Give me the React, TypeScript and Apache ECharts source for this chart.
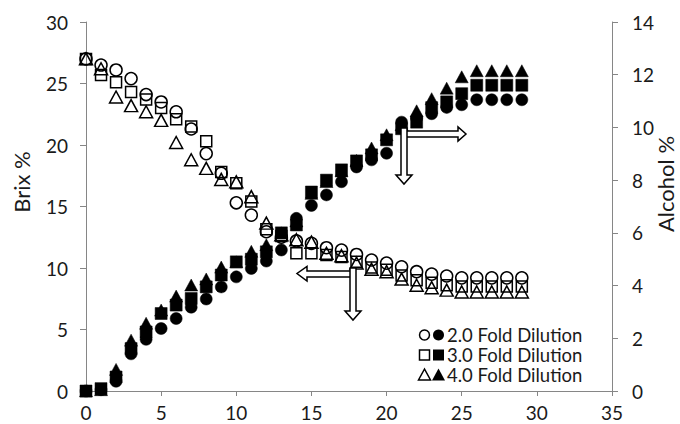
import React, { useEffect, useRef } from "react";
import * as echarts from "echarts";

// Fermentation day
const days = [0, 1, 2, 3, 4, 5, 6, 7, 8, 9, 10, 11, 12, 13, 14, 15, 16, 17, 18, 19, 20, 21, 22, 23, 24, 25, 26, 27, 28, 29];

// Brix % (left axis), open markers
const brix20 = [27.0, 26.5, 26.1, 25.4, 24.1, 23.5, 22.7, 21.3, 19.3, 17.7, 15.3, 14.3, 12.95, 12.5, 12.2, 12.0, 11.65, 11.45, 11.1, 10.65, 10.4, 10.1, 9.7, 9.5, 9.35, 9.2, 9.2, 9.2, 9.2, 9.2];
const brix30 = [27.0, 25.7, 25.1, 24.3, 23.7, 23.0, 22.1, 21.5, 20.3, 17.8, 16.9, 15.4, 13.15, 12.6, 11.2, 11.2, 11.05, 10.9, 10.5, 10.05, 9.85, 9.4, 9.0, 8.8, 8.6, 8.5, 8.5, 8.5, 8.5, 8.5];
const brix40 = [27.0, 26.2, 23.9, 23.2, 22.7, 22.0, 20.2, 18.8, 18.1, 17.2, 17.0, 15.8, 13.65, 12.7, 12.3, 12.1, 11.2, 11.0, 10.4, 9.9, 9.7, 9.1, 8.6, 8.4, 8.2, 8.05, 8.05, 8.05, 8.05, 8.05];

// Alcohol % (right axis), filled markers
const alc20 = [0, 0.05, 0.37, 1.41, 1.96, 2.37, 2.75, 3.18, 3.49, 3.95, 4.33, 4.65, 4.93, 5.35, 6.55, 7.04, 7.44, 7.94, 8.5, 8.77, 9.02, 10.2, 10.35, 10.52, 10.76, 10.86, 11.05, 11.05, 11.05, 11.05];
const alc30 = [0, 0.09, 0.53, 1.61, 2.24, 2.94, 3.26, 3.51, 3.95, 4.4, 4.9, 5.0, 5.28, 6.0, 6.3, 7.55, 8.0, 8.39, 8.73, 8.96, 9.53, 9.95, 10.2, 10.75, 10.97, 11.28, 11.6, 11.6, 11.6, 11.6];
const alc40 = [0, 0.05, 0.82, 1.93, 2.57, 3.07, 3.6, 4.02, 4.25, 4.7, 4.9, 5.3, 5.55, 6.0, 6.45, 7.5, 7.95, 8.35, 8.75, 9.22, 9.72, 10.1, 10.63, 11.09, 11.49, 11.92, 12.15, 12.15, 12.15, 12.15];

const legendNames = ["2.0 Fold Dilution", "3.0 Fold Dilution", "4.0 Fold Dilution"];
const leftTitle = "Brix %";
const rightTitle = "Alcohol %";

const FONT = "Lato, 'Liberation Sans', sans-serif";
const AXIS = "#868686";
const TEXT = "#1a1a1a";

function pairs(vals: number[]) {
  return days.map((d, i) => [d, vals[i]]);
}

function openSeries(name: string, vals: number[], symbol: string, size: any) {
  return {
    name,
    type: "scatter",
    yAxisIndex: 0,
    symbol,
    symbolSize: size,
    silent: true,
    itemStyle: { color: "rgba(0,0,0,0)", borderColor: "#000", borderWidth: 1.5, opacity: 1 },
    data: pairs(vals),
  };
}

function filledSeries(name: string, vals: number[], symbol: string, size: any) {
  return {
    name,
    type: "scatter",
    yAxisIndex: 1,
    symbol,
    symbolSize: size,
    silent: true,
    itemStyle: { color: "#000", borderColor: "#000", borderWidth: 0.5, opacity: 1 },
    data: pairs(vals),
  };
}

function arrow(points: number[][]) {
  return {
    type: "polygon",
    shape: { points },
    style: { fill: "#fff", stroke: "#000", lineWidth: 1.5 },
    z: 100,
  };
}

export default function App() {
  const ref = useRef<HTMLDivElement>(null);

  useEffect(() => {
    if (!ref.current) return;
    const chart = echarts.init(ref.current, undefined, { renderer: "svg" });

    const axisCommon = {
      axisLine: { show: true, lineStyle: { color: AXIS, width: 1 } },
      axisTick: { show: true, inside: false, length: 6, lineStyle: { color: AXIS } },
      splitLine: { show: false },
    };

    const legendRows = [335, 355, 375];
    const legendGraphics: any[] = [];
    // row 1: circles
    legendGraphics.push({ type: "circle", shape: { cx: 424.5, cy: legendRows[0], r: 5 }, style: { fill: "none", stroke: "#000", lineWidth: 1.5 }, z: 100 });
    legendGraphics.push({ type: "circle", shape: { cx: 438.5, cy: legendRows[0], r: 5.5 }, style: { fill: "#000" }, z: 100 });
    // row 2: squares
    legendGraphics.push({ type: "rect", shape: { x: 419.5, y: legendRows[1] - 5, width: 10, height: 10 }, style: { fill: "none", stroke: "#000", lineWidth: 1.5 }, z: 100 });
    legendGraphics.push({ type: "rect", shape: { x: 433, y: legendRows[1] - 5.5, width: 11, height: 11 }, style: { fill: "#000" }, z: 100 });
    // row 3: triangles
    legendGraphics.push({ type: "polygon", shape: { points: [[424.5, legendRows[2] - 6], [418.5, legendRows[2] + 5], [430.5, legendRows[2] + 5]] }, style: { fill: "none", stroke: "#000", lineWidth: 1.5 }, z: 100 });
    legendGraphics.push({ type: "polygon", shape: { points: [[438.5, legendRows[2] - 6.5], [432, legendRows[2] + 5.5], [445, legendRows[2] + 5.5]] }, style: { fill: "#000" }, z: 100 });
    legendNames.forEach((n, i) => {
      legendGraphics.push({
        type: "text",
        x: 447,
        y: legendRows[i],
        style: { text: n, fontFamily: FONT, fontSize: 18.5, fill: TEXT, textVerticalAlign: "middle", textAlign: "left" },
        z: 100,
      });
    });

    chart.setOption({
      animation: false,
      backgroundColor: "#fff",
      grid: { left: 86, right: 68, top: 22, bottom: 33, containLabel: false },
      xAxis: {
        type: "value",
        min: 0,
        max: 35,
        interval: 5,
        ...axisCommon,
        axisTick: { show: true, length: 5, lineStyle: { color: AXIS } },
        axisLabel: { fontFamily: FONT, fontSize: 19, color: TEXT, margin: 12 },
      },
      yAxis: [
        {
          type: "value",
          position: "left",
          min: 0,
          max: 30,
          interval: 5,
          ...axisCommon,
          axisLabel: { fontFamily: FONT, fontSize: 19, color: TEXT, margin: 18 },
        },
        {
          type: "value",
          position: "right",
          min: 0,
          max: 14,
          interval: 2,
          ...axisCommon,
          axisLabel: { fontFamily: FONT, fontSize: 19, color: TEXT, margin: 20 },
        },
      ],
      series: [
        openSeries("Brix 2.0", brix20, "circle", 12),
        openSeries("Brix 3.0", brix30, "rect", 11),
        openSeries("Brix 4.0", brix40, "triangle", [13, 12]),
        filledSeries("Alcohol 2.0", alc20, "circle", 12),
        filledSeries("Alcohol 3.0", alc30, "rect", 12),
        filledSeries("Alcohol 4.0", alc40, "triangle", [13, 12]),
      ],
      graphic: [
        {
          type: "text",
          x: 21,
          y: 182,
          rotation: Math.PI / 2,
          style: { text: leftTitle, fontFamily: FONT, fontSize: 22, fill: TEXT, textAlign: "center", textVerticalAlign: "middle" },
        },
        {
          type: "text",
          x: 665,
          y: 184,
          rotation: Math.PI / 2,
          style: { text: rightTitle, fontFamily: FONT, fontSize: 22, fill: TEXT, textAlign: "center", textVerticalAlign: "middle" },
        },
        // upper-right arrows (rightwards + downwards)
        arrow([[404, 131], [458, 131], [458, 127], [466, 134], [458, 141], [458, 137], [404, 137]]),
        arrow([[401, 128], [407, 128], [407, 175], [412, 175], [404, 184], [396, 175], [401, 175]]),
        // lower-middle arrows (leftwards + downwards)
        arrow([[354, 271], [307, 271], [307, 266.5], [297, 273.5], [307, 281], [307, 277], [354, 277]]),
        arrow([[350, 268], [356, 268], [356, 311], [361, 311], [353, 320], [345, 311], [350, 311]]),
        ...legendGraphics,
      ],
    });

    return () => chart.dispose();
  }, []);

  return (
    <div
      ref={ref}
      style={{ position: "fixed", left: 0, top: 0, width: 680, height: 424, background: "#fff" }}
    />
  );
}
